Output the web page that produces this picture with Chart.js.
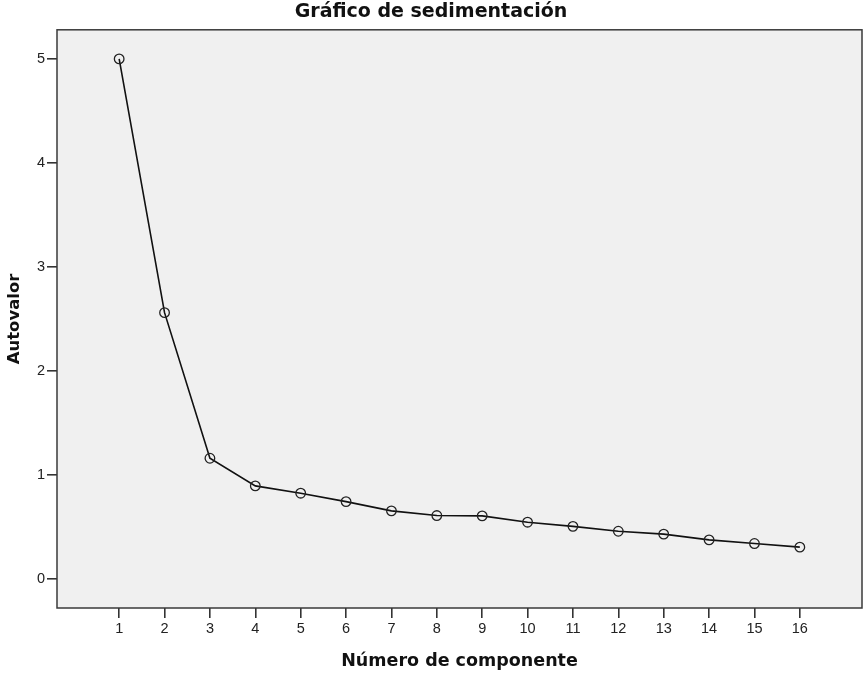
<!DOCTYPE html>
<html>
<head>
<meta charset="utf-8">
<script src="https://cdn.jsdelivr.net/npm/chart.js@4.4.1/dist/chart.umd.min.js"></script>
<style>
  html, body { margin: 0; padding: 0; background: #fff; }
  #wrap { width: 863px; height: 673px; }
</style>
</head>
<body>
<div id="wrap"><canvas id="scree" width="863" height="673"></canvas></div>
<script>
// component numbers and eigenvalues
const components = [1, 2, 3, 4, 5, 6, 7, 8, 9, 10, 11, 12, 13, 14, 15, 16];
const eigenvalues = [5.0, 2.56, 1.16, 0.894, 0.824, 0.743, 0.654, 0.609, 0.606, 0.545, 0.505, 0.458, 0.43, 0.375, 0.34, 0.305];
const yTicks = [0, 1, 2, 3, 4, 5];

const TITLE_FONT = "'DejaVu Sans', Verdana, sans-serif";
const TICK_FONT = "'Liberation Sans', Arial, sans-serif";

// grey plot area + frame, like SPSS output
const plotBox = {
  id: 'plotBox',
  beforeDraw(chart) {
    const a = chart.chartArea, ctx = chart.ctx;
    ctx.save();
    ctx.fillStyle = '#f0f0f0';
    ctx.fillRect(a.left, a.top, a.right - a.left, a.bottom - a.top);
    ctx.restore();
  },
  afterDraw(chart) {
    const a = chart.chartArea, ctx = chart.ctx;
    ctx.save();
    ctx.strokeStyle = '#3a3a3a';
    ctx.lineWidth = 1.5;
    ctx.strokeRect(a.left, a.top, a.right - a.left, a.bottom - a.top);
    ctx.restore();
  }
};

const data = components.map((c, i) => ({ x: c, y: eigenvalues[i] }));

new Chart(document.getElementById('scree'), {
  type: 'line',
  data: {
    datasets: [{
      data: data,
      borderColor: '#111',
      borderWidth: 1.6,
      pointRadius: 4.8,
      pointBorderWidth: 1.3,
      pointBorderColor: '#222',
      pointBackgroundColor: 'rgba(0,0,0,0)',
      tension: 0
    }]
  },
  options: {
    responsive: false,
    animation: false,
    layout: { autoPadding: false, padding: { top: 0, right: 1, left: 0, bottom: 0 } },
    plugins: {
      legend: { display: false },
      tooltip: { enabled: false },
      title: {
        display: true,
        text: 'Gráfico de sedimentación',
        color: '#111',
        font: { family: TITLE_FONT, size: 19, weight: 'bold', lineHeight: 1.2 },
        padding: { top: 1, bottom: 6 }
      }
    },
    scales: {
      x: {
        type: 'linear',
        min: -0.37,
        max: 17.37,
        afterBuildTicks(s) { s.ticks = components.map(v => ({ value: v })); },
        afterFit(s) { s.height = 65; s.paddingLeft = 0; s.paddingRight = 0; },
        grid: { display: true, drawOnChartArea: false, drawTicks: true, tickLength: 10, color: '#333', lineWidth: 1.6 },
        border: { display: false },
        ticks: { color: '#222', padding: 2, font: { family: TICK_FONT, size: 14.5 } },
        title: {
          display: true,
          text: 'Número de componente',
          color: '#111',
          font: { family: TITLE_FONT, size: 17.5, weight: 'bold', lineHeight: 1.2 },
          padding: { top: 0, bottom: 1 }
        }
      },
      y: {
        min: -0.28,
        max: 5.28,
        afterBuildTicks(s) { s.ticks = yTicks.map(v => ({ value: v })); },
        afterFit(s) { s.width = 57; s.paddingTop = 0; s.paddingBottom = 0; },
        grid: { display: true, drawOnChartArea: false, drawTicks: true, tickLength: 10, color: '#333', lineWidth: 1.6 },
        border: { display: false },
        ticks: { color: '#222', padding: 2, font: { family: TICK_FONT, size: 14.5 } },
        title: {
          display: true,
          text: 'Autovalor',
          color: '#111',
          font: { family: TITLE_FONT, size: 16.5, weight: 'bold', lineHeight: 1.2 },
          padding: { top: 5, bottom: 0 }
        }
      }
    }
  },
  plugins: [plotBox]
});
</script>
</body>
</html>
